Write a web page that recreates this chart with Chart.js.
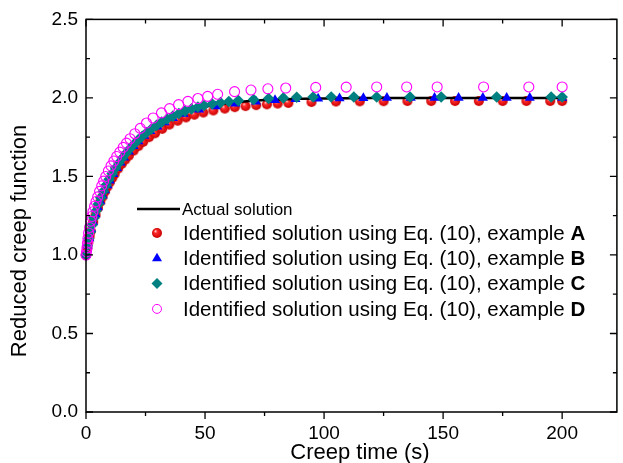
<!DOCTYPE html>
<html>
<head>
<meta charset="utf-8">
<script src="https://cdn.jsdelivr.net/npm/chart.js@4.4.0/dist/chart.umd.min.js"></script>
<style>
  html, body { margin: 0; padding: 0; background: #fff; }
</style>
</head>
<body>
<canvas id="creep" width="623" height="463"></canvas>
<script>
// actual solution (black curve)
const actualTime = [0, 0.5, 1, 2, 3, 4, 5, 6, 8, 10, 12, 14, 16, 18, 20, 24, 28, 32, 36, 40, 45, 50, 55, 60, 70, 80, 90, 100, 120, 150, 200];
const actualValue = [1.0, 1.047, 1.088, 1.158, 1.217, 1.265, 1.311, 1.35, 1.421, 1.49, 1.545, 1.592, 1.634, 1.671, 1.705, 1.763, 1.81, 1.848, 1.879, 1.903, 1.926, 1.944, 1.958, 1.968, 1.982, 1.989, 1.994, 1.996, 1.999, 2.0, 2.0];

// example A (red balls)
const timeA = [0, 0.5, 1, 1.5, 2, 3, 4, 5, 6, 7, 8, 9, 10, 11, 12, 13.5, 15, 16.5, 18, 20, 22, 24, 26.5, 29, 32, 35, 38.5, 42, 45.5, 49.3, 53.5, 58.3, 62.5, 67, 71.5, 76, 80.5, 85, 94.7, 105, 115, 125, 135, 145, 155, 165, 175, 185, 195, 200];
const valueA = [1.0, 1.045, 1.085, 1.12, 1.152, 1.21, 1.255, 1.3, 1.338, 1.372, 1.405, 1.435, 1.463, 1.49, 1.515, 1.55, 1.58, 1.607, 1.632, 1.664, 1.693, 1.72, 1.75, 1.775, 1.803, 1.83, 1.855, 1.876, 1.893, 1.907, 1.92, 1.932, 1.941, 1.948, 1.954, 1.959, 1.964, 1.968, 1.974, 1.977, 1.978, 1.979, 1.98, 1.98, 1.98, 1.98, 1.98, 1.98, 1.98, 1.98];

// example B (blue triangles)
const timeB = [0, 0.7, 1.4, 2.2, 3, 4, 5, 6, 7, 8, 9, 10, 11.5, 13, 14.5, 16, 18, 20, 22, 24.5, 27, 30, 33, 36.5, 41, 47.5, 54.5, 62.8, 71.4, 79.4, 88, 97.5, 106.5, 116.5, 126.4, 136.4, 146.4, 156.5, 166.7, 176.7, 186.4, 200];
const valueB = [1.0, 1.06, 1.105, 1.165, 1.21, 1.258, 1.303, 1.342, 1.378, 1.412, 1.443, 1.473, 1.515, 1.553, 1.588, 1.62, 1.658, 1.693, 1.724, 1.758, 1.788, 1.818, 1.845, 1.872, 1.898, 1.925, 1.947, 1.964, 1.977, 1.986, 1.992, 1.996, 1.998, 1.999, 2.0, 2.0, 2.0, 2.0, 2.0, 2.0, 2.0, 2.0];

// example C (teal diamonds)
const timeC = [0, 0.6, 1.2, 1.8, 2.5, 3.3, 4.2, 5.2, 6.2, 7.3, 8.5, 9.7, 11, 12.4, 13.8, 15.3, 16.8, 18.4, 20, 21.8, 23.6, 25.5, 27.5, 29.6, 31.8, 34.1, 36.5, 39, 41.6, 44.3, 47, 49.6, 53, 56.5, 60, 64, 70.4, 76.7, 82.9, 88.5, 95.4, 103, 112.5, 122.1, 136.1, 149.2, 172.5, 195.4, 200];
const valueC = [1.0, 1.058, 1.103, 1.147, 1.19, 1.235, 1.28, 1.325, 1.365, 1.405, 1.445, 1.482, 1.518, 1.553, 1.585, 1.617, 1.647, 1.676, 1.703, 1.731, 1.756, 1.78, 1.803, 1.825, 1.846, 1.866, 1.884, 1.901, 1.916, 1.93, 1.942, 1.952, 1.962, 1.97, 1.977, 1.983, 1.99, 1.996, 2.0, 2.004, 2.006, 2.006, 2.006, 2.006, 2.006, 2.006, 2.006, 2.006, 2.006];

// example D (open magenta circles)
const timeD = [0, 0.2, 0.4, 0.6, 0.8, 1.1, 1.5, 2.0, 2.4, 2.9, 3.6, 4.2, 4.9, 5.7, 6.6, 7.4, 8.3, 9.4, 10.5, 11.7, 12.9, 14.2, 15.6, 17.0, 18.5, 20.5, 22.8, 25.4, 28.2, 31.7, 35.1, 38.9, 42.8, 47, 51.1, 55.3, 62.4, 69.3, 76.4, 83.9, 96.5, 109.3, 122.1, 134.7, 147.5, 167, 186, 200];
const valueD = [1.0, 1.02, 1.045, 1.075, 1.105, 1.14, 1.175, 1.215, 1.245, 1.275, 1.31, 1.34, 1.37, 1.405, 1.44, 1.47, 1.5, 1.535, 1.567, 1.598, 1.627, 1.655, 1.685, 1.712, 1.74, 1.772, 1.806, 1.84, 1.872, 1.905, 1.932, 1.957, 1.978, 1.996, 2.01, 2.023, 2.04, 2.05, 2.058, 2.063, 2.067, 2.069, 2.07, 2.07, 2.07, 2.07, 2.07, 2.07];

const xTicks = [0, 50, 100, 150, 200];
const xMinorTicks = [25, 75, 125, 175, 225];
const yTicks = [0, 0.5, 1.0, 1.5, 2.0, 2.5];
const yMinorTicks = [0.25, 0.75, 1.25, 1.75, 2.25];

const legendLabels = [
  'Identified solution using Eq. (10), example ',
  'Identified solution using Eq. (10), example ',
  'Identified solution using Eq. (10), example ',
  'Identified solution using Eq. (10), example ',
];
const legendLetters = ['A', 'B', 'C', 'D'];

const FONT = "'Liberation Sans', Arial, sans-serif";

function pairs(xs, ys) {
  return xs.map((x, i) => ({ x, y: ys[i] }));
}

// shaded red ball used as point style
function makeBall(r) {
  const c = document.createElement('canvas');
  c.width = c.height = 2 * r + 2;
  const g = c.getContext('2d');
  const m = r + 1;
  const grad = g.createRadialGradient(m - r * 0.35, m - r * 0.4, 0.3, m, m, r);
  grad.addColorStop(0, '#ffd0d0');
  grad.addColorStop(0.3, '#ff2a2a');
  grad.addColorStop(1, '#c80000');
  g.fillStyle = grad;
  g.beginPath();
  g.arc(m, m, r, 0, Math.PI * 2);
  g.fill();
  return c;
}
const ball = makeBall(5);

const axesPlugin = {
  id: 'axesFrame',
  afterDraw(chart) {
    const { ctx, chartArea: a, scales: { x, y } } = chart;
    ctx.save();
    ctx.strokeStyle = '#000';
    ctx.lineWidth = 1.5;
    ctx.strokeRect(a.left, a.top, a.right - a.left, a.bottom - a.top);

    ctx.lineWidth = 1.3;
    ctx.beginPath();
    const xt = (v, len) => {
      const px = x.getPixelForValue(v);
      if (px > a.right + 0.5) return;
      ctx.moveTo(px, a.bottom); ctx.lineTo(px, a.bottom + len);
      ctx.moveTo(px, a.top); ctx.lineTo(px, a.top + len);
    };
    const yt = (v, len) => {
      const py = y.getPixelForValue(v);
      ctx.moveTo(a.left, py); ctx.lineTo(a.left + len, py);
      ctx.moveTo(a.right, py); ctx.lineTo(a.right - len, py);
    };
    xTicks.forEach(v => xt(v, 7));
    xMinorTicks.forEach(v => xt(v, 4));
    yTicks.forEach(v => yt(v, 7));
    yMinorTicks.forEach(v => yt(v, 4));
    ctx.stroke();

    // axis titles
    ctx.fillStyle = '#000';
    ctx.font = '22px ' + FONT;
    ctx.textAlign = 'center';
    ctx.textBaseline = 'alphabetic';
    ctx.fillText('Creep time (s)', 360, 459);
    ctx.save();
    ctx.translate(26, 241);
    ctx.rotate(-Math.PI / 2);
    ctx.fillText('Reduced creep function', 0, 0);
    ctx.restore();

    // legend
    ctx.textAlign = 'left';
    ctx.textBaseline = 'middle';
    ctx.lineWidth = 2.5;
    ctx.beginPath();
    ctx.moveTo(137, 209); ctx.lineTo(180, 209);
    ctx.stroke();
    ctx.font = '17px ' + FONT;
    ctx.fillText('Actual solution', 182, 210);

    const mx = 157;
    legendLabels.forEach((label, i) => {
      const ly = 233 + i * 25.3;
      if (i === 0) {
        ctx.drawImage(ball, mx - ball.width / 2, ly - ball.height / 2);
      } else if (i === 1) {
        ctx.fillStyle = '#0000ff';
        ctx.beginPath();
        ctx.moveTo(mx, ly - 5.5); ctx.lineTo(mx + 5, ly + 3); ctx.lineTo(mx - 5, ly + 3);
        ctx.closePath(); ctx.fill();
      } else if (i === 2) {
        ctx.fillStyle = '#008080';
        ctx.beginPath();
        ctx.moveTo(mx, ly - 5.5); ctx.lineTo(mx + 5.5, ly); ctx.lineTo(mx, ly + 5.5); ctx.lineTo(mx - 5.5, ly);
        ctx.closePath(); ctx.fill();
      } else {
        ctx.strokeStyle = '#ff00ff';
        ctx.lineWidth = 1;
        ctx.beginPath();
        ctx.arc(mx, ly, 4.5, 0, Math.PI * 2);
        ctx.stroke();
      }
      ctx.fillStyle = '#000';
      ctx.font = '20.5px ' + FONT;
      ctx.fillText(label, 183, ly + 1);
      const w = ctx.measureText(label).width;
      ctx.font = 'bold 20.5px ' + FONT;
      ctx.fillText(legendLetters[i], 183 + w, ly + 1);
    });
    ctx.restore();
  },
};

new Chart('creep', {
  type: 'scatter',
  data: {
    datasets: [
      {
        label: 'Actual solution',
        data: pairs(actualTime, actualValue),
        showLine: true,
        borderColor: '#000',
        borderWidth: 2.5,
        pointRadius: 0,
        cubicInterpolationMode: 'monotone',
        order: 4,
      },
      {
        label: 'A',
        data: pairs(timeA, valueA),
        pointStyle: ball,
        order: 5,
      },
      {
        label: 'B',
        data: pairs(timeB, valueB),
        pointStyle: 'triangle',
        pointRadius: 5.8,
        backgroundColor: '#0000ff',
        borderColor: '#0000ff',
        borderWidth: 0,
        order: 3,
      },
      {
        label: 'C',
        data: pairs(timeC, valueC),
        pointStyle: 'rectRot',
        pointRadius: 5.8,
        backgroundColor: '#008080',
        borderColor: '#008080',
        borderWidth: 0,
        order: 2,
      },
      {
        label: 'D',
        data: pairs(timeD, valueD),
        pointStyle: 'circle',
        pointRadius: 5,
        backgroundColor: 'rgba(255,255,255,0)',
        borderColor: '#ff00ff',
        borderWidth: 1.1,
        order: 1,
      },
    ],
  },
  options: {
    responsive: false,
    animation: false,
    devicePixelRatio: 1,
    clip: false,
    layout: { padding: { top: 19, right: 2, left: 0, bottom: 0 } },
    plugins: { legend: { display: false }, tooltip: { enabled: false } },
    scales: {
      x: {
        type: 'linear',
        min: 0,
        max: 223,
        grid: { display: false, drawTicks: false },
        border: { display: false },
        ticks: {
          stepSize: 50,
          includeBounds: false,
          padding: 10,
          color: '#000',
          font: { family: FONT, size: 19 },
        },
        afterFit: s => { s.height = 51; },
      },
      y: {
        min: 0,
        max: 2.5,
        grid: { display: false, drawTicks: false },
        border: { display: false },
        ticks: {
          stepSize: 0.5,
          padding: 8,
          color: '#000',
          font: { family: FONT, size: 19 },
          callback: v => v.toFixed(1),
        },
        afterFit: s => { s.width = 86; },
      },
    },
  },
  plugins: [axesPlugin],
});
</script>
</body>
</html>
